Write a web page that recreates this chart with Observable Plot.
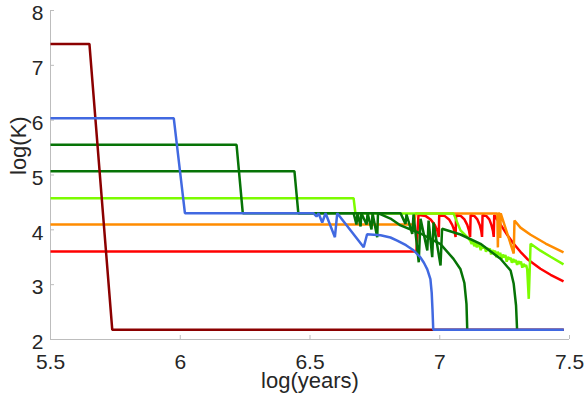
<!DOCTYPE html>
<html><head><meta charset="utf-8">
<script src="https://cdn.jsdelivr.net/npm/d3@7"></script>
<script src="https://cdn.jsdelivr.net/npm/@observablehq/plot@0.6"></script>
<style>html,body{margin:0;padding:0;background:#fff;}</style>
</head><body><div id="chart"></div>
<script>
// ---- data (log(years), log(K)) ----
const seriesNames  = ["logK0 7.4", "logK0 6.0", "logK0 5.5", "logK0 5.1", "logK0 4.6", "logK0 4.1", "logK0 3.6"];
const seriesColors = ["#8b0000", "#4169e1", "#067306", "#067306", "#7cfc00", "#ff8c00", "#ff0000"];

const darkredX = [5.5, 5.650, 5.738, 7.478];
const darkredY = [7.39, 7.39, 2.177, 2.177];

const blueX = [5.5, 5.975, 6.018, 6.513, 6.525, 6.533, 6.547, 6.560, 6.596, 6.605, 6.707, 6.720, 6.772, 6.810, 6.836, 6.870, 6.900, 6.925, 6.939, 6.952, 6.964, 6.969, 6.972, 6.975, 7.478];
const blueY = [6.036, 6.036, 4.303, 4.303, 4.243, 4.303, 4.133, 4.303, 3.865, 4.303, 3.683, 3.92, 3.90, 3.86, 3.805, 3.72, 3.623, 3.50, 3.40, 3.28, 3.10, 2.85, 2.55, 2.177, 2.177];

const greenAX = [5.5, 6.217, 6.241, 6.668, 6.679, 6.683, 6.695, 6.698, 6.718, 6.722, 6.737, 6.741, 6.759, 6.762, 6.810, 6.849, 6.926, 7.003, 7.053, 7.080, 7.095, 7.103, 7.106];
const greenAY = [5.551, 5.551, 4.303, 4.303, 4.097, 4.303, 4.060, 4.303, 4.097, 4.303, 4.006, 4.303, 3.865, 4.303, 4.206, 4.08, 3.933, 3.74, 3.47, 3.28, 3.03, 2.65, 2.177];

const greenBX = [5.5, 6.440, 6.455, 6.849, 6.868, 6.872, 6.894, 6.899, 6.919, 6.926, 6.952, 6.957, 6.971, 6.976, 7.003, 7.009, 7.080, 7.157, 7.234, 7.273, 7.285, 7.294, 7.298];
const greenBY = [5.069, 5.069, 4.303, 4.303, 4.109, 4.28, 3.927, 4.28, 3.409, 4.20, 3.623, 4.17, 3.50, 4.133, 3.349, 4.02, 3.915, 3.745, 3.472, 3.258, 3.016, 2.620, 2.177];

const lawnX = [5.5, 6.668, 6.675, 7.053, 7.080, 7.106,
  7.118, 7.123, 7.128, 7.133, 7.138, 7.143, 7.148, 7.153, 7.158, 7.163, 7.168, 7.173, 7.178, 7.183, 7.188,
  7.193, 7.198, 7.203, 7.208, 7.213, 7.218, 7.223, 7.228, 7.233, 7.238, 7.243, 7.248, 7.253, 7.258, 7.263,
  7.268, 7.273, 7.278, 7.283, 7.288, 7.293, 7.298, 7.303, 7.308, 7.313, 7.318, 7.323, 7.328, 7.333, 7.337,
  7.343, 7.350, 7.388, 7.427, 7.477];
const lawnY = [4.577, 4.577, 4.30, 4.30, 3.99, 3.865,
  3.80, 3.74, 3.79, 3.70, 3.77, 3.68, 3.74, 3.71, 3.63, 3.72, 3.66, 3.70, 3.60, 3.67, 3.62,
  3.66, 3.55, 3.63, 3.58, 3.62, 3.50, 3.60, 3.54, 3.58, 3.47, 3.55, 3.50, 3.54, 3.42, 3.51,
  3.46, 3.49, 3.40, 3.47, 3.41, 3.45, 3.36, 3.43, 3.38, 3.42, 3.31, 3.38, 3.33, 3.36, 3.28,
  2.742, 3.745, 3.62, 3.51, 3.37];

const orangeX = [5.5, 6.900, 6.907, 7.222, 7.224, 7.226, 7.231, 7.233, 7.235, 7.285, 7.288, 7.311, 7.350, 7.408, 7.477];
const orangeY = [4.097, 4.097, 4.30, 4.30, 3.68, 4.30, 4.30, 3.85, 4.30, 3.568, 4.17, 4.04, 3.91, 3.75, 3.59];

const redX = [5.5, 6.910, 6.918,
  6.919, 6.946, 6.965, 6.981, 6.991, 6.996,
  6.998, 7.020, 7.036, 7.048, 7.057, 7.061,
  7.063, 7.082, 7.095, 7.106, 7.113, 7.117,
  7.119, 7.134, 7.145, 7.154, 7.160, 7.163,
  7.165, 7.180, 7.191, 7.199, 7.205, 7.208,
  7.210, 7.234, 7.261, 7.285, 7.311, 7.337, 7.388, 7.427, 7.477];
const redY = [3.605, 3.605, 4.27,
  4.27, 4.25, 4.19, 4.09, 3.98, 3.87,
  4.27, 4.25, 4.19, 4.09, 3.98, 3.87,
  4.27, 4.25, 4.19, 4.09, 3.98, 3.87,
  4.27, 4.25, 4.19, 4.09, 3.98, 3.87,
  4.27, 4.25, 4.19, 4.09, 3.98, 3.87,
  4.27, 4.10, 3.90, 3.745, 3.60, 3.47, 3.29, 3.18, 3.06];

const xTicks = [5.5, 6, 6.5, 7, 7.5];
const xTickLabels = ["5.5", "6", "6.5", "7", "7.5"];
const yTicks = [2, 3, 4, 5, 6, 7, 8];
const yTickLabels = ["2", "3", "4", "5", "6", "7", "8"];
const xLabel = "log(years)";
const yLabel = "log(K)";

// drawing order (first drawn = bottom)
const drawOrder = [
  [6, redX, redY], [5, orangeX, orangeY], [4, lawnX, lawnY],
  [3, greenBX, greenBY], [2, greenAX, greenAY], [0, darkredX, darkredY], [1, blueX, blueY]
];
const rows = [];
for (const [si, xs, ys] of drawOrder) {
  xs.forEach((x, i) => rows.push({series: seriesNames[si], x, y: ys[i]}));
}

const W = 587, H = 403, mL = 50, mR = 18, mT = 10, mB = 64;
const axisColor = "#bdbdbd";
const textColor = "#262626";

const chart = Plot.plot({
  width: W, height: H,
  marginLeft: mL, marginRight: mR, marginTop: mT, marginBottom: mB,
  style: {fontFamily: "'Liberation Sans', Arial, sans-serif", background: "#fff", color: textColor},
  x: {domain: [5.5, 7.5]},
  y: {domain: [2, 8]},
  color: {domain: seriesNames, range: seriesColors},
  marks: [
    Plot.ruleY([2], {stroke: axisColor, strokeWidth: 1}),
    Plot.ruleX([5.5], {stroke: axisColor, strokeWidth: 1}),
    Plot.tickX(xTicks, {x: d => d, stroke: axisColor, insetTop: (H - mT - mB) - 4}),
    Plot.tickY(yTicks, {y: d => d, stroke: axisColor, insetRight: (W - mL - mR) - 4}),
    Plot.axisX(xTicks, {tickSize: 0, tickPadding: 15, fontSize: 21, label: null, tickFormat: (d) => xTickLabels[xTicks.indexOf(d)], fill: textColor}),
    Plot.axisY(yTicks, {tickSize: 0, tickPadding: 7, fontSize: 21, label: null, dy: 3, tickFormat: (d) => yTickLabels[yTicks.indexOf(d)], fill: textColor}),
    Plot.text([xLabel], {frameAnchor: "bottom", dy: 48, fontSize: 22, fill: textColor, text: d => d}),
    Plot.text([yLabel], {frameAnchor: "left", dx: -32, rotate: -90, fontSize: 22, fill: textColor, text: d => d}),
    Plot.line(rows, {x: "x", y: "y", z: "series", stroke: "series", strokeWidth: 2.5, strokeLinejoin: "miter", strokeLinecap: "butt"})
  ]
});
document.getElementById("chart").appendChild(chart);
</script></body></html>
